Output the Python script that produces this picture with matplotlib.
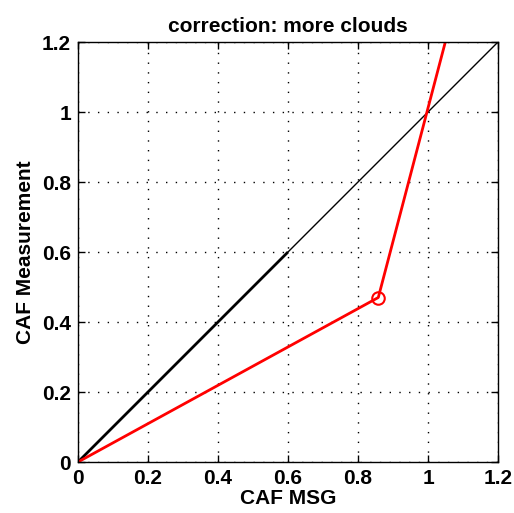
import numpy as np
import matplotlib
matplotlib.use('Agg')
import matplotlib.pyplot as plt

plt.rcParams['font.family'] = ['Liberation Sans', 'DejaVu Sans']
plt.rcParams['font.weight'] = 'bold'

# 1:1 reference line, thick part and thin part
ref_thick_x = [0.0, 0.6]
ref_thick_y = [0.0, 0.6]
ref_thin_x = [0.6, 1.2]
ref_thin_y = [0.6, 1.2]

# correction curve
corr_x = [0.0, 0.858, 1.06]
corr_y = [0.0, 0.47, 1.24]
knee_x = [0.858]
knee_y = [0.47]

ticks = [0, 0.2, 0.4, 0.6, 0.8, 1, 1.2]
tick_labels = ['0', '0.2', '0.4', '0.6', '0.8', '1', '1.2']

fig = plt.figure(figsize=(5.14, 5.13), dpi=100)
ax = fig.add_axes([78 / 514, 51 / 513, 420 / 514, 420 / 513])

ax.plot(ref_thick_x, ref_thick_y, color='black', lw=2.0, solid_capstyle='butt')
ax.plot(ref_thin_x, ref_thin_y, color='black', lw=1.0)
ax.plot(corr_x, corr_y, color='red', lw=2.0)
ax.plot(knee_x, knee_y, 'o', mfc='none', mec='red', mew=1.5, ms=9)

ax.set_xlim(0, 1.2)
ax.set_ylim(0, 1.2)
ax.set_xticks(ticks)
ax.set_yticks(ticks)
ax.set_xticklabels(tick_labels)
ax.set_yticklabels(tick_labels)
ax.tick_params(direction='in', length=5, width=1, labelsize=15, top=True, right=True, pad=5)
ax.grid(True, color='black', linestyle=(0, (1, 6)), lw=1.0)
for s in ax.spines.values():
    s.set_linewidth(1.0)

ax.set_xlabel('CAF MSG', fontsize=15, fontweight='bold', labelpad=1)
ax.set_ylabel('CAF Measurement', fontsize=15, fontweight='bold', labelpad=5)
ax.set_title('correction: more clouds', fontsize=15, fontweight='bold', pad=7)

fig.savefig('out.png', dpi=100, facecolor='white')
